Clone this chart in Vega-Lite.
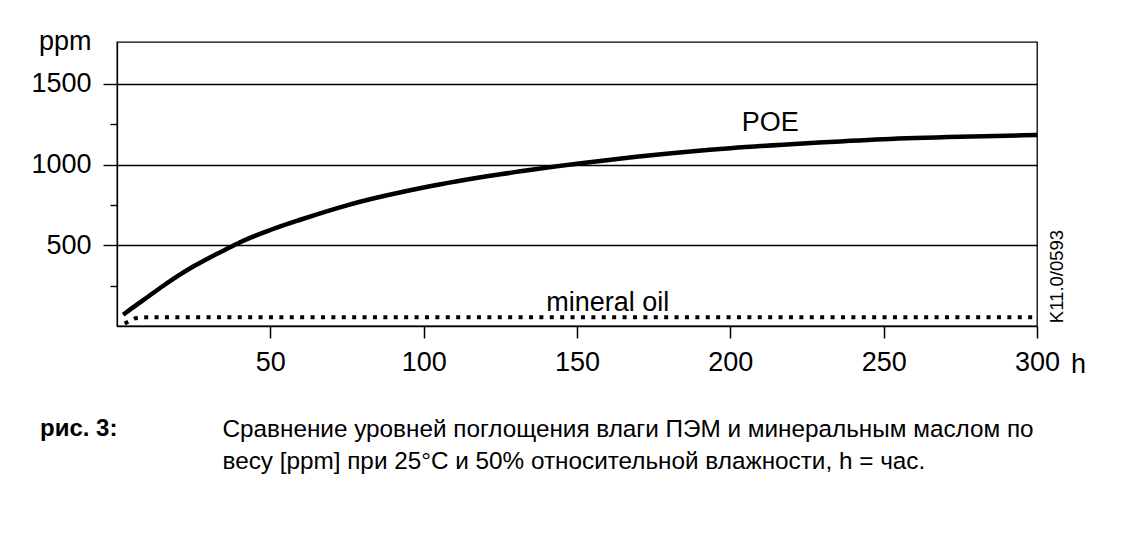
{
  "$schema": "https://vega.github.io/schema/vega-lite/v6.json",
  "width": 920,
  "height": 284,
  "autosize": {"type": "none"},
  "padding": {"left": 117, "top": 42, "right": 109, "bottom": 210},
  "background": "white",
  "config": {
    "view": {"stroke": "black", "strokeWidth": 1.3},
    "font": "Liberation Sans",
    "axis": {"labelFont": "Liberation Sans", "titleFont": "Liberation Sans", "labelColor": "black", "titleColor": "black", "titleFontWeight": "normal"}
  },
  "title": {
    "text": "рис. 3:",
    "orient": "bottom",
    "anchor": "start",
    "frame": "group",
    "dx": -77,
    "offset": -37,
    "baseline": "alphabetic",
    "fontSize": 24,
    "fontWeight": "bold",
    "font": "Liberation Sans",
    "color": "black"
  },
  "datasets": {
    "curves": [
      {"series": "POE", "h": 2, "ppm": 70},
      {"series": "POE", "h": 5, "ppm": 112},
      {"series": "POE", "h": 10, "ppm": 180},
      {"series": "POE", "h": 15, "ppm": 248},
      {"series": "POE", "h": 20, "ppm": 312},
      {"series": "POE", "h": 25, "ppm": 370},
      {"series": "POE", "h": 30, "ppm": 422},
      {"series": "POE", "h": 35, "ppm": 470},
      {"series": "POE", "h": 40, "ppm": 518},
      {"series": "POE", "h": 50, "ppm": 595},
      {"series": "POE", "h": 60, "ppm": 660},
      {"series": "POE", "h": 75, "ppm": 748},
      {"series": "POE", "h": 100, "ppm": 858},
      {"series": "POE", "h": 125, "ppm": 940},
      {"series": "POE", "h": 150, "ppm": 1005},
      {"series": "POE", "h": 175, "ppm": 1060},
      {"series": "POE", "h": 200, "ppm": 1102},
      {"series": "POE", "h": 225, "ppm": 1133},
      {"series": "POE", "h": 250, "ppm": 1158},
      {"series": "POE", "h": 275, "ppm": 1173},
      {"series": "POE", "h": 300, "ppm": 1183},
      {"series": "mineral oil", "h": 2.5, "ppm": 15},
      {"series": "mineral oil", "h": 6, "ppm": 48},
      {"series": "mineral oil", "h": 10, "ppm": 55},
      {"series": "mineral oil", "h": 300, "ppm": 55}
    ],
    "labels": [
      {"label": "POE", "h": 213, "ppm": 1206},
      {"label": "mineral oil", "h": 160, "ppm": 91}
    ]
  },
  "layer": [
    {
      "data": {"name": "curves"},
      "transform": [{"filter": "datum.series === 'POE'"}],
      "mark": {"type": "line", "color": "black", "strokeWidth": 4.5, "interpolate": "monotone", "strokeCap": "butt"},
      "encoding": {
        "x": {
          "field": "h", "type": "quantitative",
          "scale": {"domain": [0, 300], "nice": false, "zero": false},
          "axis": {
            "orient": "bottom",
            "values": [50, 100, 150, 200, 250, 300],
            "grid": false,
            "domain": true, "domainColor": "black", "domainWidth": 1.3,
            "ticks": true, "tickSize": 12, "tickWidth": 1.5, "tickColor": "black",
            "labelFontSize": 27, "labelPadding": 11, "labelFlush": false, "labelOverlap": false,
            "title": ["Сравнение уровней поглощения влаги ПЭМ и минеральным маслом по", "весу  [ppm] при 25°C и 50% относительной влажности, h = час."],
            "titleX": 105, "titleY": 110, "titleAlign": "left", "titleBaseline": "alphabetic",
            "titleFontSize": 24.3, "titleLineHeight": 32
          }
        },
        "y": {
          "field": "ppm", "type": "quantitative",
          "scale": {"domain": [0, 1760], "nice": false, "zero": false},
          "axis": {
            "orient": "left",
            "values": [250, 500, 750, 1000, 1250, 1500],
            "format": "d",
            "labelExpr": "datum.value % 500 === 0 ? datum.label : ''",
            "grid": true, "gridColor": "black", "gridWidth": 1.4,
            "gridOpacity": {"condition": {"test": "datum.value % 500 === 0", "value": 1}, "value": 0},
            "domain": true, "domainColor": "black", "domainWidth": 1.3,
            "ticks": true, "tickColor": "black", "tickWidth": 1.4,
            "tickSize": {"condition": {"test": "datum.value % 500 === 0", "value": 14}, "value": 7},
            "labelFontSize": 27, "labelPadding": 12, "labelOverlap": false, "labelBaseline": "middle",
            "title": "ppm", "titleAngle": 0, "titleX": -26, "titleY": 7,
            "titleAlign": "right", "titleBaseline": "alphabetic", "titleFontSize": 27
          }
        }
      }
    },
    {
      "data": {"name": "curves"},
      "transform": [{"filter": "datum.series === 'mineral oil'"}],
      "mark": {"type": "line", "color": "black", "strokeWidth": 4, "strokeDash": [4, 6.4], "strokeCap": "butt"},
      "encoding": {
        "x": {
          "field": "h", "type": "quantitative",
          "axis": {
            "orient": "top", "domain": false, "ticks": false, "labels": false, "grid": false,
            "title": "h", "titleX": 961, "titleY": 330, "titleAlign": "center",
            "titleBaseline": "alphabetic", "titleFontSize": 27
          }
        },
        "y": {
          "field": "ppm", "type": "quantitative",
          "axis": {
            "orient": "right", "domain": false, "ticks": false, "labels": false, "grid": false,
            "title": "K11.0/0593", "titleAngle": 270, "titleX": 19, "titleY": 234,
            "titleAlign": "center", "titleBaseline": "middle", "titleFontSize": 18.5
          }
        }
      }
    },
    {
      "data": {"name": "labels"},
      "mark": {"type": "text", "fontSize": 27, "color": "black", "align": "center", "baseline": "alphabetic", "font": "Liberation Sans"},
      "encoding": {
        "x": {"field": "h", "type": "quantitative", "axis": null},
        "y": {"field": "ppm", "type": "quantitative", "axis": null},
        "text": {"field": "label"}
      }
    }
  ]
}
